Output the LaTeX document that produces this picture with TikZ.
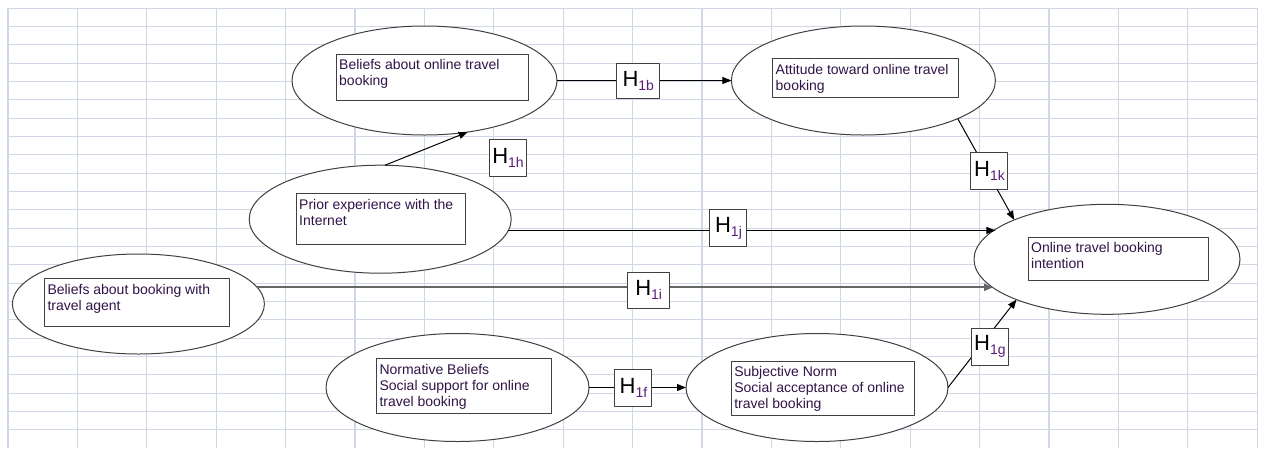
\documentclass[tikz,border=0pt]{standalone}
\usepackage{fontspec}
\setmainfont{Liberation Sans}
\usetikzlibrary{shapes.geometric,arrows.meta}

\definecolor{gridblue}{RGB}{208,215,229}
\definecolor{rimgray}{RGB}{64,64,64}
\definecolor{inkpurple}{RGB}{48,20,72}
\definecolor{subpurple}{RGB}{90,30,120}

\newcommand{\hyplabel}[1]{{\fontsize{22}{24}\selectfont H}\raisebox{-4pt}{\fontsize{14}{15}\selectfont\color{subpurple}#1}}
\newcommand{\boxtext}[3]{\parbox[t][#2][t]{#1}{\strut #3}}

\begin{document}
\begin{tikzpicture}[
    x=1pt, y=-1pt,
    construct/.style={ellipse, draw=rimgray, fill=white, line width=1pt, inner sep=0pt, outer sep=0pt},
    textbox/.style={draw=rimgray, fill=white, line width=1pt, anchor=north west,
      inner xsep=3pt, inner ysep=4pt, font=\fontsize{14}{16}\selectfont, text=inkpurple},
    hbox/.style={draw=rimgray, fill=white, line width=1pt, inner sep=0pt,
      minimum width=37pt, minimum height=37pt, text=black},
    link/.style={draw=black, line width=1pt, -{Triangle[length=9pt,width=7pt]}},
  line join=round]

  \fill [white] (0,0) rectangle (1261,448);
  \useasboundingbox (0,0) rectangle (1261,448);

  % sheet grid
  \foreach \i in {0,...,18}
    \draw [gridblue, line width=1.1pt] (8+69.4*\i, 8) -- (8+69.4*\i, 448);
  \foreach \j in {0,...,23}
    \draw [gridblue, line width=1pt] (8, 8.3+18.33*\j) -- (1257, 8.3+18.33*\j);

  % constructs
  \node [construct, minimum width=265pt, minimum height=109pt] (belief) at (424.5,80.5) {};
  \node [construct, minimum width=264pt, minimum height=109pt] (attitude) at (863.4,80.5) {};
  \node [construct, minimum width=262pt, minimum height=108pt] (prior) at (380.2,219.2) {};
  \node [construct, minimum width=252pt, minimum height=100pt] (agent) at (138.4,304) {};
  \node [construct, minimum width=266pt, minimum height=110pt] (online) at (1107,259.3) {};
  \node [construct, minimum width=263pt, minimum height=108pt] (normative) at (457.5,387.5) {};
  \node [construct, minimum width=262pt, minimum height=108pt] (subjective) at (817,387.5) {};

  % hypotheses
  \draw [link] (belief.east) -- node [hbox, pos=0.466, minimum width=43pt, minimum height=35pt] (h1b) {\hyplabel{1b}} (attitude.west);
  \draw [link] (prior.85) -- (belief.310);
  \node [hbox] (h1h) at (508,157.7) {\hyplabel{1h}};
  \draw [link] (prior.-5) -- node [hbox, pos=0.452, yshift=2.5pt] (h1j) {\hyplabel{1j}} (prior.-5 -| online.165);
  \draw [link, line width=2pt, black!60] (agent.8) -- node [hbox, pos=0.532, yshift=-3pt, minimum width=42pt, minimum height=36pt] (h1i) {\hyplabel{1i}} (agent.8 -| online.194);
  \draw [link] (attitude.338) -- node [hbox, pos=0.518, xshift=2.5pt] (h1k) {\hyplabel{1k}} (online.157);
  \draw [link] (normative.east) -- node [hbox, pos=0.458] (h1f) {\hyplabel{1f}} (subjective.west);
  \draw [link] (subjective.east) -- node [hbox, pos=0.466, xshift=10pt] (h1g) {\hyplabel{1g}} (online.204);

  % construct labels
  \node [textbox] (beliefTxt) at (335.7,54) {\boxtext{186pt}{38.3pt}{Beliefs about online travel\\booking}};
  \node [textbox] (attitudeTxt) at (772.2,58.3) {\boxtext{179.8pt}{31pt}{Attitude toward online travel\\booking}};
  \node [textbox] (priorTxt) at (295.7,193.3) {\boxtext{163.3pt}{43pt}{Prior experience with the\\Internet}};
  \node [textbox] (agentTxt) at (44,278.3) {\boxtext{178.6pt}{39.4pt}{Beliefs about booking with\\travel agent}};
  \node [textbox] (onlineTxt) at (1027.7,236.7) {\boxtext{174pt}{35.3pt}{Online travel booking\\intention}};
  \node [textbox] (normativeTxt) at (376,358.3) {\boxtext{169.3pt}{46.4pt}{Normative Beliefs\\Social support for online\\travel booking}};
  \node [textbox] (subjectiveTxt) at (730.8,361) {\boxtext{177pt}{46pt}{Subjective Norm\\Social acceptance of online\\travel booking}};
\end{tikzpicture}
\end{document}
